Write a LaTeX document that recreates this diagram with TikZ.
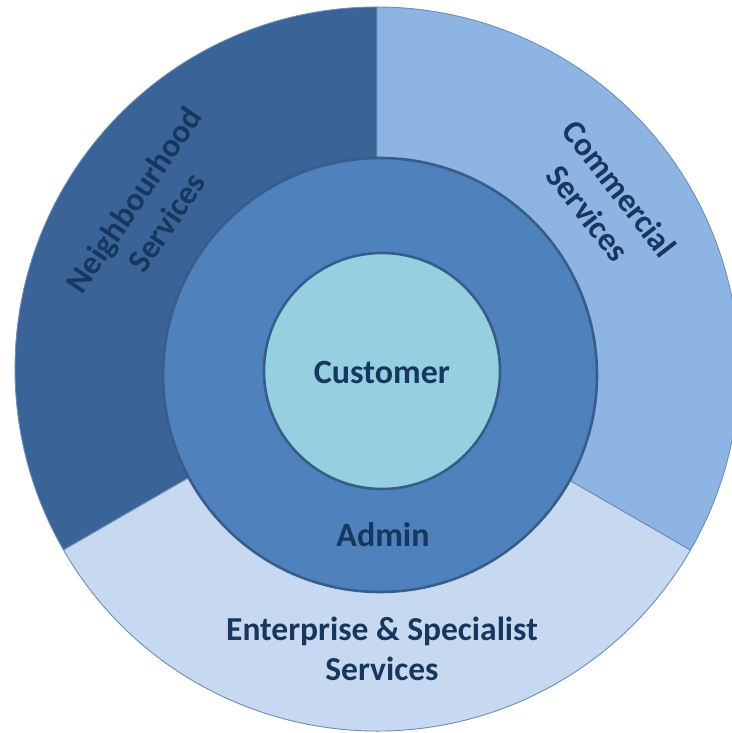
\documentclass[tikz,border=0pt]{standalone}
\usepackage{fontspec}
\setmainfont{Carlito}
\definecolor{neighC}{HTML}{3A6398}
\definecolor{commC}{HTML}{8DB4E3}
\definecolor{entC}{HTML}{C6D9F1}
\definecolor{adminC}{HTML}{4F81BD}
\definecolor{custC}{HTML}{96D0E0}
\definecolor{ringLine}{HTML}{385D8A}
\definecolor{edgeC}{HTML}{6F8DB5}
\definecolor{labelC}{HTML}{17375E}
\tikzset{
  sector/.style={draw=edgeC, line width=0.9pt},
  ringbox/.style={draw=ringLine, line width=2.6pt},
  lbl/.style={text=labelC, font=\bfseries, align=center, inner sep=0pt},
}
\begin{document}
\begin{tikzpicture}[x=1pt,y=1pt]
\useasboundingbox (0,0) rectangle (731,733);
\fill[white] (0,0) rectangle (731,733);
\coordinate (O) at (377,364);
% three outer sectors of 120 degrees each
\filldraw[sector, fill=neighC] (O) -- ++(90:362) arc[start angle=90, end angle=210, radius=362] -- cycle;
\filldraw[sector, fill=entC] (O) -- ++(210:362) arc[start angle=210, end angle=330, radius=362] -- cycle;
\filldraw[sector, fill=commC] (O) -- ++(-30:362) arc[start angle=-30, end angle=90, radius=362] -- cycle;
% admin ring and customer core
\node[ringbox, circle, fill=adminC, minimum size=434pt, inner sep=0pt] (admin) at (380,358) {};
\node[ringbox, circle, fill=custC, minimum size=236pt, inner sep=0pt] (cust) at (382,362) {};
% labels
\node[lbl, font=\bfseries\fontsize{34}{40}\selectfont] (custL) at (382,361) {Customer};
\node[lbl, font=\bfseries\fontsize{34}{40}\selectfont] (adminL) at (383,198) {Admin};
\node[lbl, font=\bfseries\fontsize{33.5}{40}\selectfont] (entL) at (382,84) {Enterprise \& Specialist\\Services};
\node[lbl, font=\bfseries\fontsize{33}{40}\selectfont, rotate=56] (neighL) at (150,522) {Neighbourhood\\Services};
\node[lbl, font=\bfseries\fontsize{33}{40}\selectfont, rotate=-52] (commL) at (604,532) {Commercial\\Services};
\end{tikzpicture}
\end{document}
